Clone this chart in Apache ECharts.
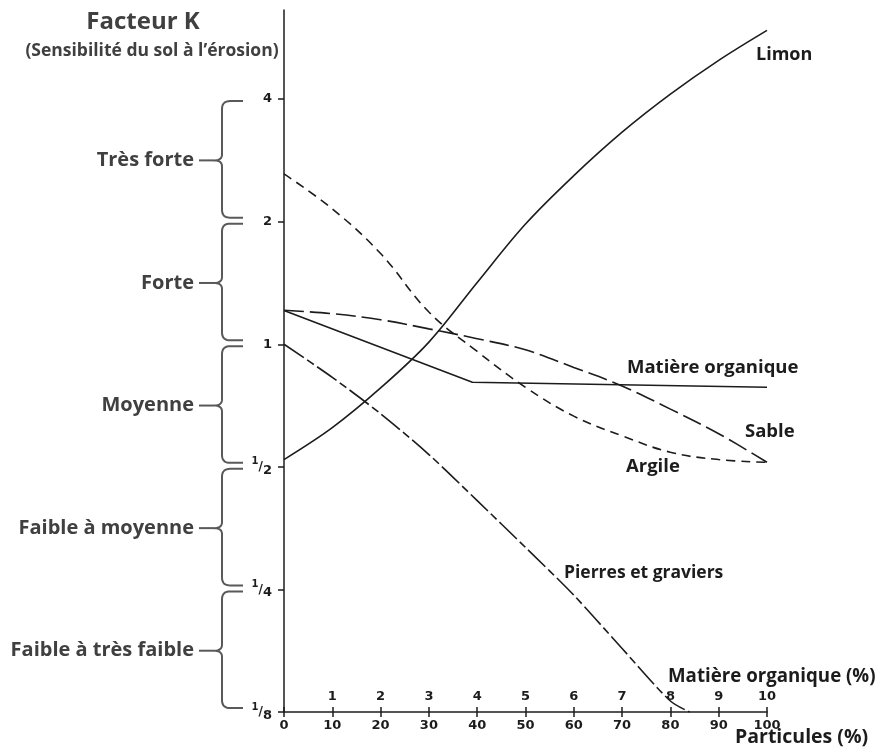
<!DOCTYPE html>
<html><head><meta charset="utf-8">
<script src="https://cdn.jsdelivr.net/npm/echarts@6/dist/echarts.min.js"></script>
<style>html,body{margin:0;padding:0;background:#fff}#c{width:885px;height:755px}</style>
</head><body><div id="c"></div>
<script>
// ---- data (K factor vs. particle percentage) ----
const particules = [0, 10, 20, 30, 40, 50, 60, 70, 80, 90, 100];
const limon  = [0.521, 0.624, 0.781, 1.012, 1.418, 1.973, 2.594, 3.317, 4.113, 4.98, 5.90];
const argile = [2.62, 2.15, 1.67, 1.20, 0.96, 0.784, 0.666, 0.596, 0.543, 0.521, 0.513];
const sable  = [1.212, 1.189, 1.149, 1.091, 1.032, 0.969, 0.877, 0.790, 0.693, 0.603, 0.513];
const moX = [0, 39, 100];
const matiereOrganique = [1.21, 0.807, 0.784];
const pierresX = [0, 10, 20, 30, 40, 50, 60, 70, 80, 84];
const pierres  = [1.0, 0.829, 0.675, 0.536, 0.413, 0.317, 0.242, 0.179, 0.133, 0.125];
const yTicks = [0.125, 0.25, 0.5, 1, 2, 4];
const yTickLabels = ['1/8', '1/4', '1/2', '1', '2', '4'];
const moTickLabels = ['', '1', '2', '3', '4', '5', '6', '7', '8', '9', '10'];
const classTops    = [4, 2, 1, 0.5, 0.25];
const classBottoms = [2, 1, 0.5, 0.25, 0.125];
const classLabels  = ['Très forte', 'Forte', 'Moyenne', 'Faible à moyenne', 'Faible à très faible'];

const zip = (xs, ys) => xs.map((x, i) => [x, ys[i]]);
const INK = '#1c1c1c';
const GREY = '#404040';
const LAB = '"Open Sans", Lato, sans-serif';
const TICKF = '"DejaVu Sans", sans-serif';

const chart = echarts.init(document.getElementById('c'), null, {renderer: 'canvas'});

function lineSeries(name, data, dash, smooth) {
  return {
    name, type: 'line', data, smooth, symbol: 'none', xAxisIndex: 0, yAxisIndex: 0,
    lineStyle: {color: INK, width: 1.6, type: dash},
    emphasis: {disabled: true}, z: 3
  };
}

chart.setOption({
  animation: false,
  backgroundColor: '#fff',
  grid: {left: 284, top: 10, width: 483, height: 702, containLabel: false},
  xAxis: [
    {
      type: 'value', min: 0, max: 100, interval: 10, position: 'bottom',
      axisLine: {show: true, onZero: false, lineStyle: {color: INK, width: 1.5}},
      axisTick: {show: true, inside: false, length: 5, lineStyle: {color: INK, width: 1.5}},
      axisLabel: {color: INK, fontFamily: TICKF, fontWeight: 'bold', fontSize: 13, margin: 7},
      splitLine: {show: false}
    },
    {
      type: 'value', min: 0, max: 10, interval: 1, position: 'bottom',
      axisLine: {show: false, onZero: false},
      axisTick: {show: true, inside: true, length: 5, lineStyle: {color: INK, width: 1.5}},
      axisLabel: {inside: true, color: INK, fontFamily: TICKF, fontWeight: 'bold', fontSize: 13, margin: 9,
        formatter: v => moTickLabels[Math.round(v)] || ''},
      splitLine: {show: false}
    }
  ],
  yAxis: {
    type: 'log', logBase: 2, min: 0.125, max: 6.62,
    axisLine: {show: true, lineStyle: {color: INK, width: 1.5}},
    axisTick: {show: true, length: 6, lineStyle: {color: INK, width: 1.5}},
    splitLine: {show: false},
    axisLabel: {
      showMaxLabel: false, margin: 12, color: INK, fontFamily: TICKF, fontWeight: 'bold', fontSize: 13,
      formatter: function (v) {
        const i = yTicks.findIndex(t => Math.abs(Math.log2(v) - Math.log2(t)) < 0.01);
        if (i < 0) return '';
        const s = yTickLabels[i];
        if (s.indexOf('/') >= 0) {
          const p = s.split('/');
          return '{n|' + p[0] + '}{s|/}{d|' + p[1] + '}';
        }
        return '{w|' + s + '}';
      },
      rich: {
        n: {fontSize: 10, fontWeight: 'bold', fontFamily: TICKF, color: INK, verticalAlign: 'top', lineHeight: 12},
        s: {fontSize: 12, fontWeight: 'bold', fontFamily: TICKF, color: INK, lineHeight: 20},
        d: {fontSize: 13, fontWeight: 'bold', fontFamily: TICKF, color: INK, verticalAlign: 'bottom', lineHeight: 12},
        w: {fontSize: 13, fontWeight: 'bold', fontFamily: TICKF, color: INK, lineHeight: 20}
      }
    }
  },
  series: [
    lineSeries('Limon', zip(particules, limon), 'solid', 0.35),
    lineSeries('Argile', zip(particules, argile), [9, 6], 0.4),
    lineSeries('Sable', zip(particules, sable), [20, 6], 0.35),
    lineSeries('Matière organique', zip(moX, matiereOrganique), 'solid', false),
    lineSeries('Pierres et graviers', zip(pierresX, pierres), [24, 4, 8, 4], 0.3)
  ]
});

// ---- annotations: title, curve labels, bracket classes ----
const py = v => chart.convertToPixel({yAxisIndex: 0}, v);
const g = [];
const txt = (text, x, y, size, align, color) => g.push({
  type: 'text', x, y, silent: true,
  style: {text, fill: color || GREY, font: 'bold ' + size + 'px ' + LAB, align: align || 'left', verticalAlign: 'middle'}
});
txt('Facteur K', 143, 22, 24, 'center', GREY);
txt('(Sensibilité du sol à l’érosion)', 152, 51, 17.5, 'center', GREY);
txt('Limon', 756, 55, 18, 'left', INK);
txt('Matière organique', 627, 368, 18.5, 'left', INK);
txt('Sable', 745, 432, 18.5, 'left', INK);
txt('Argile', 626, 467, 18.5, 'left', INK);
txt('Pierres et graviers', 564, 573, 17.5, 'left', INK);
txt('Matière organique (%)', 668, 677, 18.7, 'left', INK);
txt('Particules (%)', 735, 737, 19.5, 'left', INK);

// quadratic bezier sampler for the curly brackets
function quad(p0, p1, p2, out) {
  for (let t = 0.1; t <= 1.0001; t += 0.1) {
    const a = (1 - t) * (1 - t), b = 2 * (1 - t) * t, c = t * t;
    out.push([a * p0[0] + b * p1[0] + c * p2[0], a * p0[1] + b * p1[1] + c * p2[1]]);
  }
}
const x0 = 222, xe = 243, xn = 214;
classLabels.forEach((lab, i) => {
  const yt = py(classTops[i]) + 2, yb = py(classBottoms[i]) - 4;
  const ym = py(Math.sqrt(classTops[i] * classBottoms[i]));
  const pts = [[xe, yt], [x0 + 8, yt]];
  quad([x0 + 8, yt], [x0, yt], [x0, yt + 8], pts);
  pts.push([x0, ym - 6]);
  quad([x0, ym - 6], [x0, ym], [xn, ym], pts);
  quad([xn, ym], [x0, ym], [x0, ym + 6], pts);
  pts.push([x0, yb - 8]);
  quad([x0, yb - 8], [x0, yb], [x0 + 8, yb], pts);
  pts.push([xe, yb]);
  g.push({type: 'polyline', silent: true, shape: {points: pts}, style: {fill: null, stroke: '#595959', lineWidth: 2}});
  g.push({type: 'line', silent: true, shape: {x1: 199, y1: ym, x2: xn, y2: ym}, style: {stroke: '#595959', lineWidth: 2}});
  txt(lab, 194, ym, 20, 'right', GREY);
});
chart.setOption({graphic: g});
</script>
</body></html>
